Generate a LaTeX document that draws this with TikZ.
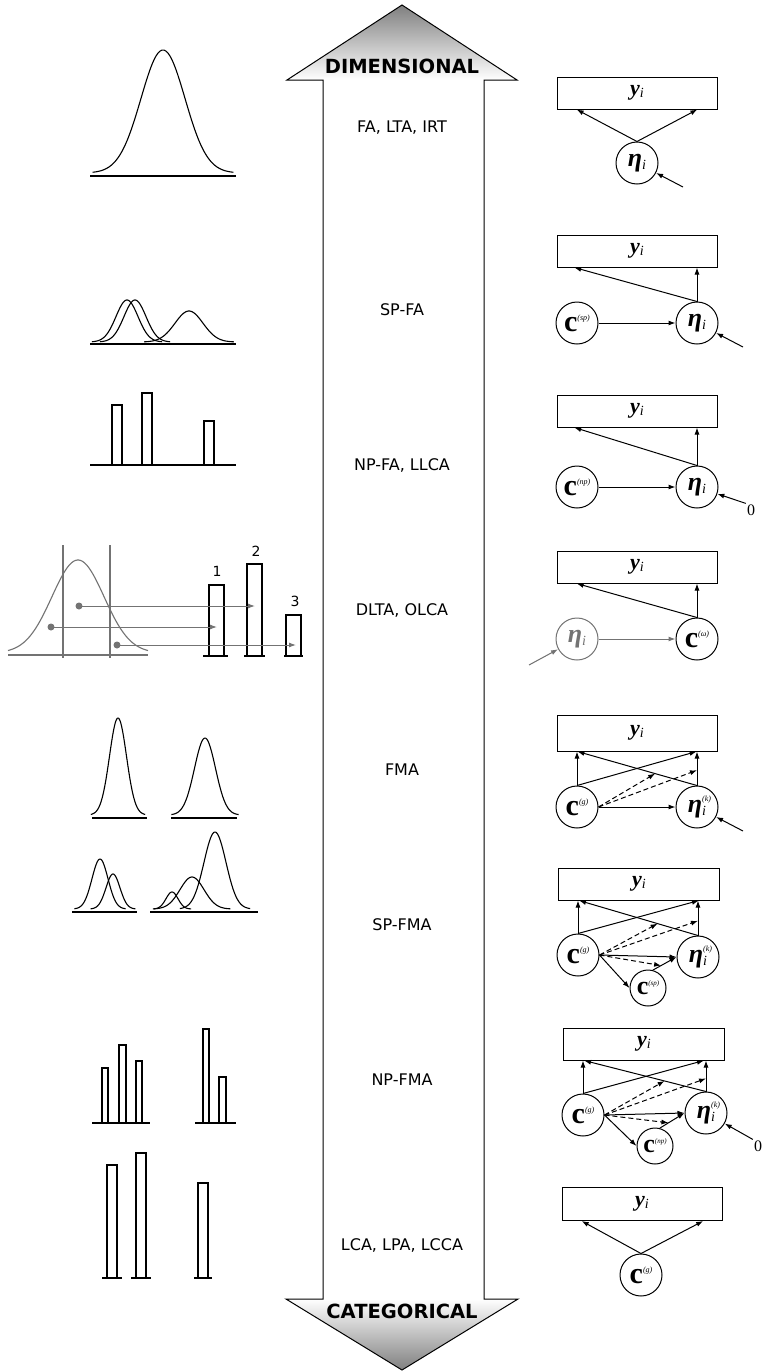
\documentclass[tikz,border=0pt]{standalone}
\usepackage{fontspec}
\setmainfont{DejaVu Sans}
\newfontfamily\tnr{Liberation Serif}
\usetikzlibrary{arrows.meta,calc}

% variable labels
\newcommand\yvar{{\tnr\fontsize{22}{22}\selectfont\bfseries\itshape y}{\tnr\itshape\fontsize{14}{14}\selectfont\raisebox{-2pt}{i}}}
\newcommand\etavar{{\tnr\fontsize{26}{26}\selectfont\bfseries\itshape η}{\tnr\itshape\fontsize{14}{14}\selectfont\raisebox{-3pt}{i}}}
\newcommand\etak{{\tnr\fontsize{26}{26}\selectfont\bfseries\itshape η}\rlap{\raisebox{11pt}{\tnr\itshape\fontsize{8}{8}\selectfont(k)}}{\tnr\itshape\fontsize{14}{14}\selectfont\raisebox{-3pt}{i}}}
\newcommand\cvar[1]{{\tnr\fontsize{30}{30}\selectfont\bfseries c}\raisebox{11pt}{\tnr\itshape\fontsize{8}{8}\selectfont(#1)}}
\newcommand\csmall[1]{{\tnr\fontsize{26}{26}\selectfont\bfseries c}\raisebox{9pt}{\tnr\itshape\fontsize{7}{7}\selectfont(#1)}}

% bell curve: centre, sigma, height, curve base
\newcommand\bell[4]{\draw[curve] plot[domain={#1-3.2*#2}:{#1+3.2*#2}, samples=70, smooth] (\x,{#4-#3*exp(-0.5*(\x-#1)*(\x-#1)/(#2*#2))});}
% bar: left x, right x, top y, bottom y
\newcommand\barbox[4]{\draw[curve] (#1,#4) -- (#1,#3) -- (#2,#3) -- (#2,#4);}

\tikzset{
  curve/.style={line width=1.1pt, black},
  obs/.style={draw, line width=1pt, minimum width=160, minimum height=32, inner sep=0},
  lat/.style={draw, circle, line width=1pt, minimum size=42, inner sep=0},
  latsmall/.style={draw, circle, line width=1pt, minimum size=36, inner sep=0},
  arr/.style={-{Latex[length=7pt,width=5pt]}, line width=1pt},
  darr/.style={arr, dash pattern=on 5pt off 3pt},
  garr/.style={arr, draw=black!55, fill=black!55},
  mid/.style={font=\fontsize{16}{16}\selectfont},
  pole/.style={font=\bfseries\fontsize{19.5}{19.5}\selectfont},
  zero/.style={font=\tnr\fontsize{16}{16}\selectfont, inner sep=1pt},
  num/.style={font=\fontsize{14}{14}\selectfont}
}

\begin{document}
\begin{tikzpicture}[x=1pt,y=-1pt]
\useasboundingbox (0,0) rectangle (764,1371);
\fill[white] (0,0) rectangle (764,1371);

% ---- double-headed axis arrow ----
\shade[top color=black!50, bottom color=white] (287,80) -- (402,5) -- (517,80) -- cycle;
\shade[top color=white, bottom color=black!50] (286,1299) -- (518,1299) -- (402,1370) -- cycle;
\draw[line width=1pt, line join=miter] (323,1299) -- (323,80) -- (287,80) -- (402,5) -- (517,80)
  -- (484,80) -- (484,1299) -- (518,1299) -- (402,1370) -- (286,1299) -- cycle;
\node[pole] (dim) at (402,66) {DIMENSIONAL};
\node[pole] (cat) at (402,1311) {CATEGORICAL};

% ---- model names ----
\node[mid] (m1) at (402,128) {FA, LTA, IRT};
\node[mid] (m2) at (402,310) {SP-FA};
\node[mid] (m3) at (402,465) {NP-FA, LLCA};
\node[mid] (m4) at (402,610) {DLTA, OLCA};
\node[mid] (m5) at (402,770) {FMA};
\node[mid] (m6) at (402,925) {SP-FMA};
\node[mid] (m7) at (402,1080) {NP-FMA};
\node[mid] (m8) at (402,1245) {LCA, LPA, LCCA};

% ---- distributions ----
% FA
\draw[curve] (90,176) -- (236,176);
\bell{163}{22}{123}{173}
% SP-FA
\draw[curve] (90,344) -- (236,344);
\bell{127}{11}{42}{342}
\bell{135}{11}{42}{342}
\bell{189}{14}{31}{342}
% NP-FA
\draw[curve] (90,465) -- (236,465);
\barbox{112}{122}{405}{465}
\barbox{142}{152}{393}{465}
\barbox{204}{214}{421}{465}
% DLTA
\begin{scope}[black!55, line width=1.1pt]
  \draw (8,655) -- (148,655);
  \draw (63,545) -- (63,658);
  \draw (110,545) -- (110,658);
  \draw plot[domain=8:148, samples=80, smooth] (\x,{653-93*exp(-0.5*(\x-78)*(\x-78)/(26*26))});
  \fill (79,606) circle (3.5);
  \fill (51,627) circle (3.5);
  \fill (117,645) circle (3.5);
\end{scope}
\barbox{209}{224}{585}{656}
\barbox{247}{262}{564}{656}
\barbox{286}{301}{615}{656}
\draw[curve] (203,656) -- (228,656);
\draw[curve] (244,656) -- (265,656);
\draw[curve] (284,656) -- (303,656);
\node[num] (n1) at (217,571) {1};
\node[num] (n2) at (256,551) {2};
\node[num] (n3) at (295,601) {3};
\coordinate (p1) at (79,606);
\coordinate (p2) at (51,627);
\coordinate (p3) at (117,645);
\coordinate (q1) at (255,606);
\coordinate (q2) at (217,627);
\coordinate (q3) at (296,645);
\draw[garr] (p1) -- (q1);
\draw[garr] (p2) -- (q2);
\draw[garr] (p3) -- (q3);
% FMA
\draw[curve] (92,818) -- (147,818);
\draw[curve] (171,818) -- (237,818);
\bell{118}{8.5}{97}{815}
\bell{205}{10.5}{77}{815}
% SP-FMA
\draw[curve] (72,912) -- (137,912);
\draw[curve] (150,912) -- (258,912);
\bell{100}{8}{50}{909}
\bell{113}{7}{35}{909}
\bell{172}{6}{17}{909}
\bell{192}{12}{32}{909}
\bell{215}{11}{77}{909}
% NP-FMA
\draw[curve] (92,1123) -- (150,1123);
\draw[curve] (195,1123) -- (236,1123);
\barbox{102}{108}{1068}{1123}
\barbox{119}{126}{1045}{1123}
\barbox{136}{142}{1061}{1123}
\barbox{203}{209}{1029}{1123}
\barbox{219}{226}{1077}{1123}
% LCA
\barbox{107}{117}{1165}{1278}
\barbox{136}{146}{1153}{1278}
\barbox{198}{208}{1183}{1278}
\draw[curve] (102,1278) -- (122,1278);
\draw[curve] (131,1278) -- (151,1278);
\draw[curve] (194,1278) -- (212,1278);

% ---- path diagrams ----
% FA
\node[obs] (y1) at (637,93) {\yvar};
\node[lat] (e1) at (637,163) {\etavar};
\draw[arr] (e1.north) -- ($(y1.south west)!0.125!(y1.south east)$);
\draw[arr] (e1.north) -- ($(y1.south west)!0.875!(y1.south east)$);
\coordinate (d1) at (683,187);
\draw[arr] (d1) -- (e1);

% SP-FA
\node[obs] (y2) at (637,251) {\yvar};
\node[lat] (c2) at (577,323) {\cvar{sp}};
\node[lat] (e2) at (697,323) {\etavar};
\draw[arr] (c2) -- (e2);
\draw[arr] (e2.north) -- (e2.north |- y2.south);
\draw[arr] (e2.north) -- ($(y2.south west)!0.11!(y2.south east)$);
\coordinate (d2) at (743,347);
\draw[arr] (d2) -- (e2);

% NP-FA
\node[obs] (y3) at (637,411) {\yvar};
\node[lat] (c3) at (577,487) {\cvar{np}};
\node[lat] (e3) at (697,487) {\etavar};
\draw[arr] (c3) -- (e3);
\draw[arr] (e3.north) -- (e3.north |- y3.south);
\draw[arr] (e3.north) -- ($(y3.south west)!0.11!(y3.south east)$);
\node[zero] (z3) at (751,510) {0};
\draw[arr] (z3.north west) -- (e3);

% DLTA
\node[obs] (y4) at (637,567) {\yvar};
\node[lat, draw=black!55, text=black!55] (e4) at (577,639) {\etavar};
\node[lat] (c4) at (697,639) {\cvar{ω}};
\draw[garr] (e4) -- (c4);
\draw[arr] (c4.north) -- (c4.north |- y4.south);
\draw[arr] (c4.north) -- ($(y4.south west)!0.125!(y4.south east)$);
\coordinate (d4) at (529,665);
\draw[garr] (d4) -- (e4);

% FMA
\node[obs, minimum height=36] (y5) at (637,733) {\yvar};
\node[lat] (c5) at (577,807) {\cvar{g}};
\node[lat] (e5) at (697,807) {\etak};
\coordinate (y5l) at ($(y5.south west)!0.13!(y5.south east)$);
\coordinate (y5r) at ($(y5.south west)!0.87!(y5.south east)$);
\draw[arr] (c5.north) -- (c5.north |- y5.south);
\draw[arr] (c5.north) -- (y5r);
\draw[arr] (e5.north) -- (e5.north |- y5.south);
\draw[arr] (e5.north) -- (y5l);
\draw[darr] (c5.east) -- ($(e5.north)!0.35!(y5l)$);
\draw[darr] (c5.east) -- ($(e5.north)!0.45!(e5.north |- y5.south)$);
\draw[arr] (c5) -- (e5);
\coordinate (d5) at (743,831);
\draw[arr] (d5) -- (e5);

% SP-FMA
\node[obs, minimum width=161] (y6) at (639,884) {\yvar};
\node[lat] (c6) at (578,955) {\cvar{g}};
\node[lat] (e6) at (698,957) {\etak};
\node[latsmall] (s6) at (648,988) {\csmall{sp}};
\coordinate (y6l) at ($(y6.south west)!0.13!(y6.south east)$);
\coordinate (y6r) at ($(y6.south west)!0.87!(y6.south east)$);
\draw[arr] (c6.north) -- (c6.north |- y6.south);
\draw[arr] (c6.north) -- (y6r);
\draw[arr] (e6.north) -- (e6.north |- y6.south);
\draw[arr] (e6.north) -- (y6l);
\draw[darr] (c6.east) -- ($(e6.north)!0.34!(y6l)$);
\draw[darr] (c6.east) -- ($(e6.north)!0.42!(e6.north |- y6.south)$);
\draw[arr] (c6.east) -- (e6.west);
\draw[arr] (c6.east) -- (s6.west);
\draw[arr] (s6.75) -- (e6.west);
\draw[darr] (c6.east) -- ($(s6.75)!0.35!(e6.west)$);

% NP-FMA
\node[obs, minimum width=161] (y7) at (644,1044) {\yvar};
\node[lat] (c7) at (583,1115) {\cvar{g}};
\node[lat] (e7) at (706,1113) {\etak};
\node[latsmall] (s7) at (655,1146) {\csmall{np}};
\coordinate (y7l) at ($(y7.south west)!0.13!(y7.south east)$);
\coordinate (y7r) at ($(y7.south west)!0.87!(y7.south east)$);
\draw[arr] (c7.north) -- (c7.north |- y7.south);
\draw[arr] (c7.north) -- (y7r);
\draw[arr] (e7.north) -- (e7.north |- y7.south);
\draw[arr] (e7.north) -- (y7l);
\draw[darr] (c7.east) -- ($(e7.north)!0.34!(y7l)$);
\draw[darr] (c7.east) -- ($(e7.north)!0.42!(e7.north |- y7.south)$);
\draw[arr] (c7.east) -- (e7.west);
\draw[arr] (c7.east) -- (s7.west);
\draw[arr] (s7.75) -- (e7.west);
\draw[darr] (c7.east) -- ($(s7.75)!0.35!(e7.west)$);
\node[zero] (z7) at (758,1146) {0};
\draw[arr] (z7.north west) -- (e7);

% LCA
\node[obs, minimum height=33] (y8) at (642,1204) {\yvar};
\node[lat] (c8) at (641,1275) {\cvar{g}};
\draw[arr] (c8.north) -- ($(y8.south west)!0.125!(y8.south east)$);
\draw[arr] (c8.north) -- ($(y8.south west)!0.88!(y8.south east)$);
\end{tikzpicture}
\end{document}
